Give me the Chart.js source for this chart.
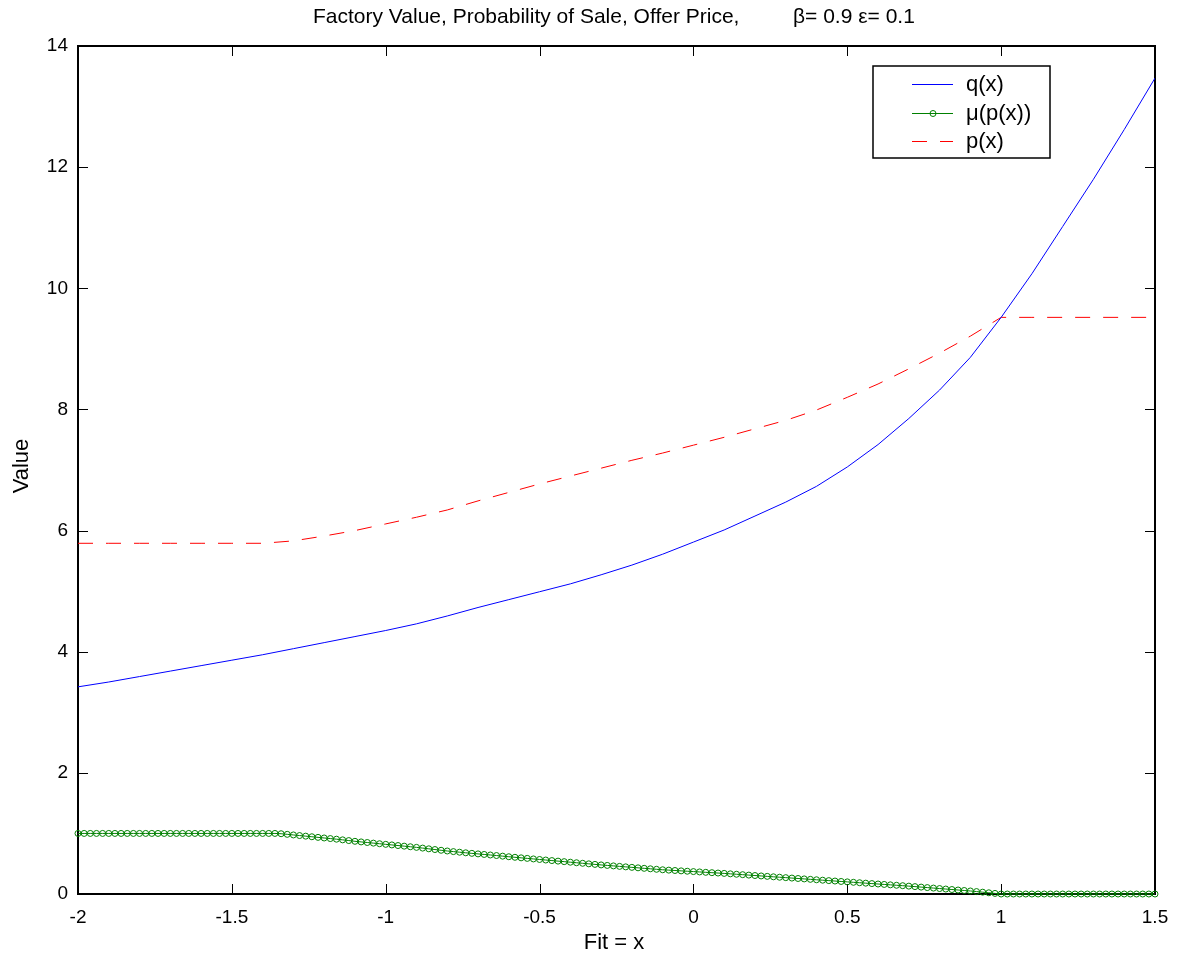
<!DOCTYPE html>
<html>
<head>
<meta charset="utf-8">
<title>Factory Value, Probability of Sale, Offer Price</title>
<script src="https://cdn.jsdelivr.net/npm/chart.js@4"></script>
<style>
    body { margin: 0; background: #fff; }
    canvas { display: block; }
</style>
</head>
<body>
<canvas id="valueChart" width="1186" height="958"></canvas>
<script>
// Axis ticks
const xTicks = [-2, -1.5, -1, -0.5, 0, 0.5, 1, 1.5];
const yTicks = [0, 2, 4, 6, 8, 10, 12, 14];

// Coarse grid for q(x) and p(x)
const xCoarse = [
    -2, -1.9, -1.8, -1.7, -1.6, -1.5, -1.4, -1.3, -1.2, -1.1,
    -1, -0.9, -0.8, -0.7, -0.6, -0.5, -0.4, -0.3, -0.2, -0.1,
    0, 0.1, 0.2, 0.3, 0.4, 0.5, 0.6, 0.7, 0.8, 0.9,
    1, 1.1, 1.2, 1.3, 1.4, 1.5
];
const qVals = [
    3.42, 3.50, 3.59, 3.68, 3.77, 3.86, 3.95, 4.05, 4.15, 4.25,
    4.35, 4.46, 4.59, 4.73, 4.86, 4.99, 5.12, 5.27, 5.43, 5.61,
    5.81, 6.01, 6.24, 6.47, 6.73, 7.05, 7.42, 7.85, 8.32, 8.86,
    9.52, 10.24, 11.02, 11.80, 12.62, 13.47
];
const pVals = [
    5.79, 5.79, 5.79, 5.79, 5.79, 5.79, 5.79, 5.83, 5.91, 6.00,
    6.11, 6.22, 6.34, 6.49, 6.63, 6.77, 6.90, 7.03, 7.16, 7.28,
    7.41, 7.54, 7.68, 7.82, 7.99, 8.20, 8.42, 8.67, 8.93, 9.21,
    9.52, 9.52, 9.52, 9.52, 9.52, 9.52
];

// Fine grid for mu(p(x)) markers
const xFine = [
    -2, -1.98, -1.96, -1.94, -1.92, -1.9, -1.88, -1.86, -1.84, -1.82,
    -1.8, -1.78, -1.76, -1.74, -1.72, -1.7, -1.68, -1.66, -1.64, -1.62,
    -1.6, -1.58, -1.56, -1.54, -1.52, -1.5, -1.48, -1.46, -1.44, -1.42,
    -1.4, -1.38, -1.36, -1.34, -1.32, -1.3, -1.28, -1.26, -1.24, -1.22,
    -1.2, -1.18, -1.16, -1.14, -1.12, -1.1, -1.08, -1.06, -1.04, -1.02,
    -1, -0.98, -0.96, -0.94, -0.92, -0.9, -0.88, -0.86, -0.84, -0.82,
    -0.8, -0.78, -0.76, -0.74, -0.72, -0.7, -0.68, -0.66, -0.64, -0.62,
    -0.6, -0.58, -0.56, -0.54, -0.52, -0.5, -0.48, -0.46, -0.44, -0.42,
    -0.4, -0.38, -0.36, -0.34, -0.32, -0.3, -0.28, -0.26, -0.24, -0.22,
    -0.2, -0.18, -0.16, -0.14, -0.12, -0.1, -0.08, -0.06, -0.04, -0.02,
    0, 0.02, 0.04, 0.06, 0.08, 0.1, 0.12, 0.14, 0.16, 0.18,
    0.2, 0.22, 0.24, 0.26, 0.28, 0.3, 0.32, 0.34, 0.36, 0.38,
    0.4, 0.42, 0.44, 0.46, 0.48, 0.5, 0.52, 0.54, 0.56, 0.58,
    0.6, 0.62, 0.64, 0.66, 0.68, 0.7, 0.72, 0.74, 0.76, 0.78,
    0.8, 0.82, 0.84, 0.86, 0.88, 0.9, 0.92, 0.94, 0.96, 0.98,
    1, 1.02, 1.04, 1.06, 1.08, 1.1, 1.12, 1.14, 1.16, 1.18,
    1.2, 1.22, 1.24, 1.26, 1.28, 1.3, 1.32, 1.34, 1.36, 1.38,
    1.4, 1.42, 1.44, 1.46, 1.48, 1.5
];
const muVals = [
    1, 1, 1, 1, 1, 1, 1, 1, 1, 1,
    1, 1, 1, 1, 1, 1, 1, 1, 1, 1,
    1, 1, 1, 1, 1, 1, 1, 1, 1, 1,
    1, 1, 1, 0.995, 0.985, 0.975, 0.965, 0.955, 0.945, 0.935,
    0.925, 0.915, 0.905, 0.894, 0.882, 0.870, 0.860, 0.850, 0.840, 0.830,
    0.820, 0.810, 0.800, 0.790, 0.780, 0.770, 0.758, 0.746, 0.734, 0.722,
    0.710, 0.700, 0.690, 0.680, 0.671, 0.662, 0.653, 0.644, 0.635, 0.625,
    0.615, 0.606, 0.597, 0.588, 0.579, 0.570, 0.561, 0.552, 0.543, 0.534,
    0.525, 0.516, 0.507, 0.498, 0.489, 0.480, 0.472, 0.464, 0.456, 0.448,
    0.440, 0.432, 0.424, 0.416, 0.408, 0.400, 0.394, 0.388, 0.382, 0.376,
    0.370, 0.364, 0.358, 0.352, 0.346, 0.340, 0.333, 0.326, 0.319, 0.312,
    0.305, 0.298, 0.291, 0.284, 0.277, 0.270, 0.263, 0.256, 0.249, 0.242,
    0.235, 0.228, 0.221, 0.214, 0.207, 0.200, 0.193, 0.186, 0.179, 0.172,
    0.165, 0.158, 0.151, 0.144, 0.137, 0.130, 0.122, 0.114, 0.106, 0.098,
    0.090, 0.082, 0.074, 0.066, 0.058, 0.050, 0.040, 0.030, 0.020, 0.010,
    0, 0, 0, 0, 0, 0, 0, 0, 0, 0,
    0, 0, 0, 0, 0, 0, 0, 0, 0, 0,
    0, 0, 0, 0, 0, 0
];

const seriesNames = ['q(x)', 'μ(p(x))', 'p(x)'];
const titleMain = 'Factory Value, Probability of Sale, Offer Price,';
const titleParams = 'β= 0.9 ε= 0.1';
const xLabel = 'Fit = x';
const yLabel = 'Value';

const FAMILY = '"Liberation Sans", Arial, sans-serif';
const BLUE = '#0000ff';
const GREEN = '#008000';
const RED = '#ff0000';

function toPoints(xs, ys) {
    return xs.map((x, i) => ({ x: x, y: ys[i] }));
}

// MATLAB style box, inward ticks, legend and labels
const matlabFrame = {
    id: 'matlabFrame',
    beforeDatasetsDraw(chart) {
        const { ctx, chartArea: a, scales: { x, y } } = chart;
        ctx.save();
        ctx.strokeStyle = '#000';
        ctx.lineWidth = 1;
        ctx.beginPath();
        xTicks.forEach(v => {
            const px = Math.round(x.getPixelForValue(v)) + 0.5;
            ctx.moveTo(px, a.bottom);
            ctx.lineTo(px, a.bottom - 10);
            ctx.moveTo(px, a.top);
            ctx.lineTo(px, a.top + 10);
        });
        yTicks.forEach(v => {
            const py = Math.round(y.getPixelForValue(v)) + 0.5;
            ctx.moveTo(a.left, py);
            ctx.lineTo(a.left + 10, py);
            ctx.moveTo(a.right, py);
            ctx.lineTo(a.right - 10, py);
        });
        ctx.stroke();
        ctx.lineWidth = 2;
        ctx.strokeRect(a.left, a.top, a.right - a.left, a.bottom - a.top);
        ctx.restore();
    },
    afterDraw(chart) {
        const { ctx, chartArea: a } = chart;
        ctx.save();
        ctx.fillStyle = '#000';

        // title, parameters set apart as in the original
        ctx.font = '21px ' + FAMILY;
        ctx.textAlign = 'left';
        ctx.textBaseline = 'middle';
        ctx.fillText(titleMain, 313, 17);
        ctx.fillText(titleParams, 793, 17);

        // axis labels
        ctx.font = '22px ' + FAMILY;
        ctx.textAlign = 'center';
        ctx.fillText(xLabel, 614, 943);
        ctx.save();
        ctx.translate(22, 466);
        ctx.rotate(-Math.PI / 2);
        ctx.fillText(yLabel, 0, 0);
        ctx.restore();

        // legend
        const lx = a.right - 282, ly = a.top + 20, lw = 177, lh = 92;
        ctx.fillStyle = '#fff';
        ctx.fillRect(lx, ly, lw, lh);
        ctx.strokeStyle = '#000';
        ctx.lineWidth = 1.5;
        ctx.strokeRect(lx, ly, lw, lh);

        const rows = [ly + 18, ly + 47, ly + 75];
        const styles = [
            { color: BLUE, dash: [] },
            { color: GREEN, dash: [], marker: true },
            { color: RED, dash: [15, 13] }
        ];
        ctx.font = '22px ' + FAMILY;
        ctx.textAlign = 'left';
        ctx.textBaseline = 'middle';
        rows.forEach((ry, i) => {
            const s = styles[i];
            ctx.strokeStyle = s.color;
            ctx.lineWidth = 1;
            ctx.setLineDash(s.dash);
            ctx.beginPath();
            ctx.moveTo(lx + 39, ry + 0.5);
            ctx.lineTo(lx + 80, ry + 0.5);
            ctx.stroke();
            ctx.setLineDash([]);
            if (s.marker) {
                ctx.beginPath();
                ctx.arc(lx + 60, ry + 0.5, 3, 0, Math.PI * 2);
                ctx.stroke();
            }
            ctx.fillStyle = '#000';
            ctx.fillText(seriesNames[i], lx + 93, ry + 1);
        });
        ctx.restore();
    }
};

const ctx = document.getElementById('valueChart').getContext('2d');
const valueChart = new Chart(ctx, {
    type: 'line',
    data: {
        datasets: [{
            label: seriesNames[0],
            data: toPoints(xCoarse, qVals),
            borderColor: BLUE,
            borderWidth: 1,
            pointRadius: 0,
            fill: false,
            tension: 0
        }, {
            label: seriesNames[1],
            data: toPoints(xFine, muVals),
            borderColor: GREEN,
            borderWidth: 1,
            pointRadius: 3,
            pointBorderWidth: 1,
            pointBorderColor: GREEN,
            pointBackgroundColor: 'rgba(0,0,0,0)',
            fill: false,
            tension: 0,
            clip: false
        }, {
            label: seriesNames[2],
            data: toPoints(xCoarse, pVals),
            borderColor: RED,
            borderWidth: 1,
            borderDash: [15, 13],
            pointRadius: 0,
            fill: false,
            tension: 0
        }]
    },
    options: {
        responsive: false,
        animation: false,
        events: [],
        layout: {
            padding: { top: 46, right: 31, left: 0, bottom: 0 }
        },
        plugins: {
            legend: { display: false },
            title: { display: false },
            tooltip: { enabled: false }
        },
        scales: {
            x: {
                type: 'linear',
                min: -2,
                max: 1.5,
                afterBuildTicks: scale => { scale.ticks = xTicks.map(v => ({ value: v })); },
                afterFit: scale => { scale.height = 64; },
                grid: { display: false, drawTicks: false },
                border: { display: false },
                ticks: {
                    autoSkip: false,
                    maxRotation: 0,
                    padding: 12,
                    color: '#000',
                    font: { family: FAMILY, size: 19 },
                    callback: v => String(v)
                }
            },
            y: {
                type: 'linear',
                min: 0,
                max: 14,
                afterBuildTicks: scale => { scale.ticks = yTicks.map(v => ({ value: v })); },
                afterFit: scale => { scale.width = 78; },
                grid: { display: false, drawTicks: false },
                border: { display: false },
                ticks: {
                    autoSkip: false,
                    padding: 10,
                    color: '#000',
                    font: { family: FAMILY, size: 19 },
                    callback: v => String(v)
                }
            }
        }
    },
    plugins: [matlabFrame]
});
</script>
</body>
</html>
